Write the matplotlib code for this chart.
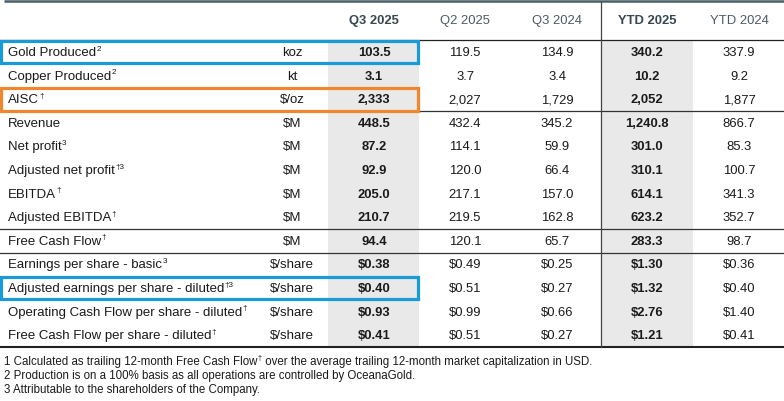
import matplotlib
matplotlib.use("Agg")
import matplotlib.pyplot as plt
from matplotlib.patches import Rectangle

plt.rcParams['font.family'] = ['Liberation Sans', 'DejaVu Sans']

# ---------------- data ----------------
columns = ["Q3 2025", "Q2 2025", "Q3 2024", "YTD 2025", "YTD 2024"]
bold_cols = [True, False, False, True, False]

row_labels = ["Gold Produced", "Copper Produced", "AISC", "Revenue", "Net profit",
              "Adjusted net profit", "EBITDA", "Adjusted EBITDA", "Free Cash Flow",
              "Earnings per share - basic", "Adjusted earnings per share - diluted",
              "Operating Cash Flow per share - diluted", "Free Cash Flow per share - diluted"]
row_sups = ["2", "2", "\u2020", "", "3", "\u20203", "\u2020", "\u2020", "\u2020",
            "3", "\u20203", "\u2020", "\u2020"]
units = ["koz", "kt", "$/oz", "$M", "$M", "$M", "$M", "$M", "$M",
         "$/share", "$/share", "$/share", "$/share"]

q3_2025 = ["103.5", "3.1", "2,333", "448.5", "87.2", "92.9", "205.0", "210.7", "94.4",
           "$0.38", "$0.40", "$0.93", "$0.41"]
q2_2025 = ["119.5", "3.7", "2,027", "432.4", "114.1", "120.0", "217.1", "219.5", "120.1",
           "$0.49", "$0.51", "$0.99", "$0.51"]
q3_2024 = ["134.9", "3.4", "1,729", "345.2", "59.9", "66.4", "157.0", "162.8", "65.7",
           "$0.25", "$0.27", "$0.66", "$0.27"]
ytd_2025 = ["340.2", "10.2", "2,052", "1,240.8", "301.0", "310.1", "614.1", "623.2", "283.3",
            "$1.30", "$1.32", "$2.76", "$1.21"]
ytd_2024 = ["337.9", "9.2", "1,877", "866.7", "85.3", "100.7", "341.3", "352.7", "98.7",
            "$0.36", "$0.40", "$1.40", "$0.41"]
values = [q3_2025, q2_2025, q3_2024, ytd_2025, ytd_2024]

highlight_blue = [0, 10]
highlight_orange = [2]
lines_after = [2, 7, 8]

footnotes = [
    ("1 Calculated as trailing 12-month Free Cash Flow", "\u2020",
     " over the average trailing 12-month market capitalization in USD."),
    ("2 Production is on a 100% basis as all operations are controlled by OceanaGold.", "", ""),
    ("3 Attributable to the shareholders of the Company.", "", ""),
]

# ---------------- layout ----------------
W, H = 784, 402
fig = plt.figure(figsize=(W / 100, H / 100), dpi=100)
ax = fig.add_axes([0, 0, 1, 1])
ax.set_xlim(0, W)
ax.set_ylim(H, 0)
ax.axis("off")

label_x = 8
unit_x = 292
col_x = [374, 465, 557, 647, 739]
shade_spans = [(328, 419), (601.5, 693)]
header_y = 21
row0 = 53
dy = 23.6
table_top = row0 - dy / 2
table_bottom = row0 + (len(row_labels) - 1) * dy + dy / 2
fs = 9.5
fs_val = 9.4
fs_note = 8.3
txt_col = "#1a1a1a"
hdr_bold_col = "#37474f"
hdr_col = "#4f5a63"

renderer = fig.canvas.get_renderer()
inv = ax.transData.inverted()


def right_edge(t):
    bb = t.get_window_extent(renderer=renderer)
    return inv.transform((bb.x1, bb.y0))[0]


def text_with_sup(x, y, base, sup, size, color, sup_size=None):
    t = ax.text(x, y, base, fontsize=size, color=color, ha="left", va="center")
    x1 = right_edge(t)
    if sup:
        s = ax.text(x1 + 0.3, y - size * 0.42, sup, fontsize=sup_size or size * 0.62,
                    color=color, ha="left", va="center")
        x1 = right_edge(s)
    return x1


# shaded columns
for x0, x1 in shade_spans:
    ax.add_patch(Rectangle((x0, table_top), x1 - x0, table_bottom - table_top,
                           facecolor="#e9e9e9", edgecolor="none", zorder=0))

# top rule
ax.plot([4, W], [1.5, 1.5], color="#4b5d6a", lw=1.8, solid_capstyle="butt")
# header rule
ax.plot([0, W], [table_top, table_top], color="#222222", lw=0.9)
# section rules
for i in lines_after:
    yy = row0 + i * dy + dy / 2
    ax.plot([0, W], [yy, yy], color="#333333", lw=0.9)
# bottom rule
ax.plot([0, W], [table_bottom, table_bottom], color="#222222", lw=1.5)
# vertical rule
ax.plot([601.5, 601.5], [3, table_bottom], color="#444444", lw=0.9)

# headers
for c, x, b in zip(columns, col_x, bold_cols):
    ax.text(x, header_y, c, fontsize=fs_val, ha="center", va="center",
            fontweight="bold" if b else "normal", color=hdr_bold_col if b else hdr_col)

# rows
for i, (lab, sup, u) in enumerate(zip(row_labels, row_sups, units)):
    y = row0 + i * dy
    text_with_sup(label_x, y, lab, sup, fs, txt_col)
    ax.text(unit_x, y, u, fontsize=fs, ha="center", va="center", color=txt_col)
    for vals, x, b in zip(values, col_x, bold_cols):
        ax.text(x, y, vals[i], fontsize=fs_val, ha="center", va="center", color=txt_col,
                fontweight="bold" if b else "normal")

# highlight boxes
for idxs, col in [(highlight_blue, "#1a9ad6"), (highlight_orange, "#f0862e")]:
    for i in idxs:
        y = row0 + i * dy
        ax.add_patch(Rectangle((1.5, y - dy / 2 + 0.3), 417, dy - 0.8, facecolor="none",
                               edgecolor=col, lw=2.3, zorder=5))

# footnotes
fy = [362, 376, 390]
for (a, s, b), y in zip(footnotes, fy):
    xe = text_with_sup(4, y, a, s, fs_note, txt_col, sup_size=5.3)
    if b:
        ax.text(xe, y, b, fontsize=fs_note, color=txt_col, ha="left", va="center")

fig.savefig("out.png", dpi=100)
